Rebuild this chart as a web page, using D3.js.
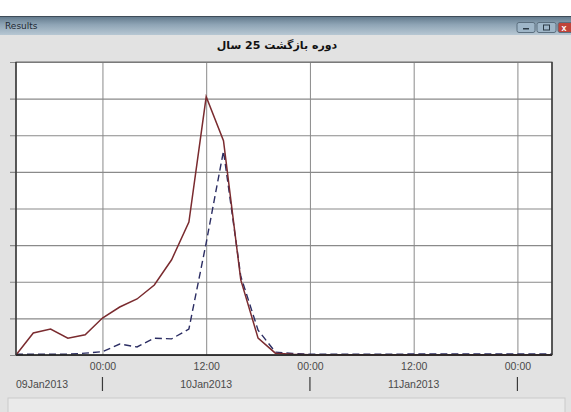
<!DOCTYPE html>
<html>
<head>
<meta charset="utf-8">
<script src="https://cdn.jsdelivr.net/npm/d3@7/dist/d3.min.js"></script>
<style>
  html, body { margin: 0; padding: 0; background: #ffffff; }
  svg { display: block; }
</style>
</head>
<body>
<script>
// Hydrograph samples, every two hours (UTC)
const times = [
  "2013-01-09T14:00", "2013-01-09T16:00", "2013-01-09T18:00", "2013-01-09T20:00", "2013-01-09T22:00",
  "2013-01-10T00:00", "2013-01-10T02:00", "2013-01-10T04:00", "2013-01-10T06:00", "2013-01-10T08:00",
  "2013-01-10T10:00", "2013-01-10T12:00", "2013-01-10T14:00", "2013-01-10T16:00", "2013-01-10T18:00",
  "2013-01-10T20:00", "2013-01-10T22:00",
  "2013-01-11T00:00", "2013-01-11T02:00", "2013-01-11T04:00", "2013-01-11T06:00", "2013-01-11T08:00",
  "2013-01-11T10:00", "2013-01-11T12:00", "2013-01-11T14:00", "2013-01-11T16:00", "2013-01-11T18:00",
  "2013-01-11T20:00", "2013-01-11T22:00",
  "2013-01-12T00:00", "2013-01-12T02:00", "2013-01-12T04:00"
];
const inflow = [
  0, 6.0, 7.1, 4.6, 5.5,
  10.1, 13.1, 15.3, 19.1, 26.0,
  36.3, 70.5, 58.5, 20.5, 4.6,
  0.5, 0.2,
  0.1, 0.1, 0.1, 0.1, 0.1,
  0.1, 0.1, 0.1, 0.1, 0.1,
  0.1, 0.1,
  0.1, 0.1, 0.1
];
const outflow = [
  0.2, 0.2, 0.2, 0.2, 0.5,
  0.9, 3.0, 2.2, 4.6, 4.4,
  7.1, 30.6, 55.7, 21.5, 6.8,
  0.8, 0.4,
  0.2, 0.2, 0.2, 0.2, 0.2,
  0.2, 0.3, 0.3, 0.3, 0.3,
  0.3, 0.3,
  0.3, 0.3, 0.3
];
const yTicks = [0, 10, 20, 30, 40, 50, 60, 70, 80];
const timeTicks = ["2013-01-10T00:00", "2013-01-10T12:00", "2013-01-11T00:00", "2013-01-11T12:00", "2013-01-12T00:00"];
const dayTicks = ["2013-01-10T00:00", "2013-01-11T00:00", "2013-01-12T00:00"];
const dayLabels = [
  { t: "2013-01-09T14:00", label: "09Jan2013", anchor: "start" },
  { t: "2013-01-10T12:00", label: "10Jan2013", anchor: "middle" },
  { t: "2013-01-11T12:00", label: "11Jan2013", anchor: "middle" }
];
const windowTitle = "Results";
const chartTitle = "دوره بازگشت 25 سال";

const W = 571, H = 412;
const parse = s => new Date(s + ":00Z");
const fmt = d3.utcFormat("%H:%M");

const svg = d3.select("body").append("svg").attr("width", W).attr("height", H);

// window frame
svg.append("rect").attr("x", 0).attr("y", 0).attr("width", W).attr("height", H).attr("fill", "#ffffff");
const defs = svg.append("defs");
const grad = defs.append("linearGradient").attr("id", "bar").attr("x1", 0).attr("y1", 0).attr("x2", 0).attr("y2", 1);
grad.append("stop").attr("offset", "0%").attr("stop-color", "#5f7689");
grad.append("stop").attr("offset", "45%").attr("stop-color", "#8ea4b5");
grad.append("stop").attr("offset", "100%").attr("stop-color", "#b7c7d3");
svg.append("rect").attr("x", 0).attr("y", 16).attr("width", W).attr("height", 19).attr("fill", "url(#bar)");
svg.append("line").attr("x1", 0).attr("x2", W).attr("y1", 16.5).attr("y2", 16.5).attr("stroke", "#3e4c58");
svg.append("text").attr("x", 5).attr("y", 29)
  .attr("font-family", "'DejaVu Sans', sans-serif").attr("font-size", 9).attr("fill", "#1f2a33")
  .text(windowTitle);

// caption buttons
const btns = [{ x: 517, w: 18, c: "#9fb6c8" }, { x: 537, w: 19, c: "#9fb6c8" }, { x: 558, w: 16, c: "#c0443a" }];
btns.forEach(b => {
  svg.append("rect").attr("x", b.x).attr("y", 22.5).attr("width", b.w).attr("height", 10).attr("rx", 2)
    .attr("fill", b.c).attr("stroke", "#5b6e7e");
});
svg.append("rect").attr("x", 523).attr("y", 28).attr("width", 6).attr("height", 1.5).attr("fill", "#2c3a46");
svg.append("rect").attr("x", 543.5).attr("y", 25).attr("width", 6).attr("height", 5).attr("fill", "none").attr("stroke", "#2c3a46");
svg.append("text").attr("x", 564).attr("y", 31).attr("text-anchor", "middle").attr("font-family", "sans-serif")
  .attr("font-size", 9).attr("font-weight", "bold").attr("fill", "#fff").text("x");

// client area
svg.append("rect").attr("x", 0).attr("y", 35).attr("width", W).attr("height", H - 35).attr("fill", "#e2e2e2");
svg.append("rect").attr("x", 8).attr("y", 398).attr("width", 557).attr("height", 20)
  .attr("fill", "#eaeaea").attr("stroke", "#cacaca");

svg.append("text").attr("x", 277).attr("y", 49).attr("text-anchor", "middle")
  .attr("font-family", "'DejaVu Sans', 'Noto Sans', sans-serif").attr("font-size", 11).attr("font-weight", "bold")
  .attr("fill", "#111").attr("direction", "rtl").text(chartTitle);

// plot
const plot = { left: 16, right: 552, top: 62, bottom: 355 };
const x = d3.scaleUtc().domain([parse(times[0]), parse(times[times.length - 1])]).range([plot.left, plot.right]);
const y = d3.scaleLinear().domain([0, 80]).range([plot.bottom, plot.top]);

svg.append("rect").attr("x", plot.left).attr("y", plot.top).attr("width", plot.right - plot.left)
  .attr("height", plot.bottom - plot.top).attr("fill", "#ffffff");

// horizontal grid + left ticks
const yAxis = d3.axisLeft(y).tickValues(yTicks).tickSize(plot.right - plot.left + 6).tickFormat("");
const gy = svg.append("g").attr("transform", `translate(${plot.right},0)`).call(yAxis);
gy.select(".domain").remove();
gy.selectAll(".tick line").attr("stroke", "#8a8a8a").attr("stroke-width", 1.2);

// vertical grid
const xGrid = d3.axisBottom(x).tickValues(timeTicks.map(parse)).tickSize(-(plot.bottom - plot.top)).tickFormat("");
const gx = svg.append("g").attr("transform", `translate(0,${plot.bottom})`).call(xGrid);
gx.select(".domain").remove();
gx.selectAll(".tick line").attr("stroke", "#8a8a8a").attr("stroke-width", 1);

// series
const pts = (vals) => times.map((t, i) => ({ t: parse(t), v: vals[i] }));
const line = d3.line().x(d => x(d.t)).y(d => y(d.v));
svg.append("path").datum(pts(outflow)).attr("d", line).attr("fill", "none")
  .attr("stroke", "#2b2d63").attr("stroke-width", 1.4).attr("stroke-dasharray", "7,4");
svg.append("path").datum(pts(inflow)).attr("d", line).attr("fill", "none")
  .attr("stroke", "#7a2b2f").attr("stroke-width", 1.5);

// frame
svg.append("rect").attr("x", plot.left).attr("y", plot.top).attr("width", plot.right - plot.left)
  .attr("height", plot.bottom - plot.top).attr("fill", "none").attr("stroke", "#6a6a6a").attr("stroke-width", 1);
svg.append("line").attr("x1", plot.left).attr("x2", plot.right).attr("y1", plot.bottom).attr("y2", plot.bottom)
  .attr("stroke", "#1a1a1a").attr("stroke-width", 1.6);
svg.append("line").attr("x1", plot.left).attr("x2", plot.left).attr("y1", plot.top).attr("y2", plot.bottom)
  .attr("stroke", "#333").attr("stroke-width", 1.4);
svg.append("line").attr("x1", plot.right).attr("x2", plot.right).attr("y1", plot.top).attr("y2", plot.bottom)
  .attr("stroke", "#333").attr("stroke-width", 1.4);

// time-of-day labels
const timeAxis = d3.axisBottom(x).tickValues(timeTicks.map(parse)).tickSize(0).tickPadding(8).tickFormat(fmt);
const ga = svg.append("g").attr("transform", `translate(0,${plot.bottom})`).call(timeAxis);
ga.select(".domain").remove();
ga.selectAll("text").attr("font-family", "'Liberation Sans', Arial, sans-serif").attr("font-size", 10.5).attr("fill", "#4a4a4a");

// day separators
svg.append("g").selectAll("line").data(dayTicks).join("line")
  .attr("x1", d => x(parse(d))).attr("x2", d => x(parse(d)))
  .attr("y1", 377).attr("y2", 391).attr("stroke", "#3a3a3a").attr("stroke-width", 1.2);

// date labels
svg.append("g").selectAll("text").data(dayLabels).join("text")
  .attr("x", d => x(parse(d.t))).attr("y", 388).attr("text-anchor", d => d.anchor)
  .attr("font-family", "'Liberation Sans', Arial, sans-serif").attr("font-size", 10.5).attr("fill", "#4a4a4a")
  .text(d => d.label);
</script>
</body>
</html>
